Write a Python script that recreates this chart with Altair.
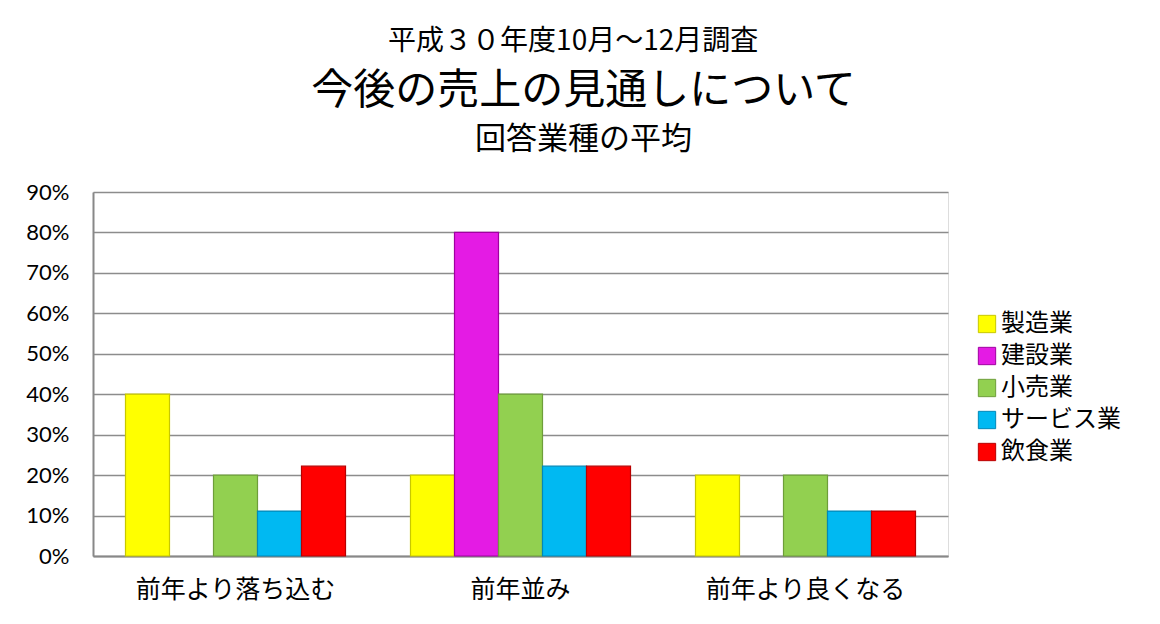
import altair as alt
import pandas as pd

categories = ["前年より落ち込む", "前年並み", "前年より良くなる"]
industries = ["製造業", "建設業", "小売業", "サービス業", "飲食業"]
manufacturing = [0.40, 0.20, 0.20]
construction = [0.0, 0.80, 0.0]
retail = [0.20, 0.40, 0.20]
service = [0.111, 0.222, 0.111]
food = [0.222, 0.222, 0.111]
fill_colors = ["#FFFF00", "#E41BE4", "#92D050", "#00B9F2", "#FF0000"]
edge_colors = ["#C8C800", "#A000A0", "#6E9E3A", "#0088B8", "#B80000"]
y_ticks = [0.0, 0.1, 0.2, 0.3, 0.4, 0.5, 0.6, 0.7, 0.8, 0.9]

series = [manufacturing, construction, retail, service, food]
rows = []
for ind, vals in zip(industries, series):
    for cat, v in zip(categories, vals):
        if v > 0:
            rows.append({"category": cat, "industry": ind, "value": v})
df = pd.DataFrame(rows)

JP = "Noto Sans CJK JP"

bars = alt.Chart(df).mark_bar(strokeWidth=1.2).encode(
    x=alt.X(
        "category:N",
        sort=categories,
        scale=alt.Scale(domain=categories, paddingInner=0.228, paddingOuter=0.114),
        axis=alt.Axis(
            title=None, labelAngle=0, labelFont=JP, labelFontSize=25,
            labelColor="#000000", domainColor="#888888", domainWidth=2,
            ticks=False, labelPadding=21, grid=False, labelLimit=400,
        ),
    ),
    xOffset=alt.XOffset("industry:N", sort=industries,
                        scale=alt.Scale(domain=industries, paddingInner=0, paddingOuter=0)),
    y=alt.Y(
        "value:Q",
        scale=alt.Scale(domain=[0, 0.9], nice=False),
        axis=alt.Axis(
            title=None, format=".0%", values=y_ticks, labelFont="Lato",
            labelFontSize=22, labelColor="#000000", labelPadding=24,
            ticks=False, domainColor="#888888", domainWidth=2,
            gridColor="#8C8C8C", gridWidth=1.5,
        ),
    ),
    color=alt.Color(
        "industry:N", sort=industries,
        scale=alt.Scale(domain=industries, range=fill_colors),
        legend=alt.Legend(
            title=None, orient="none", legendX=882, legendY=120,
            symbolType="square", symbolSize=300, symbolStrokeWidth=1,
            labelFont=JP, labelFontSize=24, labelColor="#000000",
            rowPadding=8, labelOffset=2,
        ),
    ),
    stroke=alt.Stroke(
        "industry:N", sort=industries,
        scale=alt.Scale(domain=industries, range=edge_colors), legend=None,
    ),
).properties(
    width=855, height=364,
    title=alt.TitleParams(
        text="今後の売上の見通しについて",
        subtitle="回答業種の平均",
        font=JP, fontSize=42, fontWeight="normal", color="#000000",
        subtitleFont=JP, subtitleFontSize=31, subtitleColor="#000000",
        subtitlePadding=12, anchor="middle", offset=25, frame="group", dx=63,
    ),
)

chart = alt.vconcat(
    bars,
    title=alt.TitleParams(
        text="平成３０年度10月～12月調査",
        font=JP, fontSize=28, fontWeight="normal", color="#000000",
        anchor="middle", offset=14,
    ),
    padding={"left": 17, "top": 19, "right": 5, "bottom": 5},
).configure_view(strokeWidth=0).configure(background="#FFFFFF")

chart.save("out.html", embed_options={"renderer": "svg", "actions": False})
